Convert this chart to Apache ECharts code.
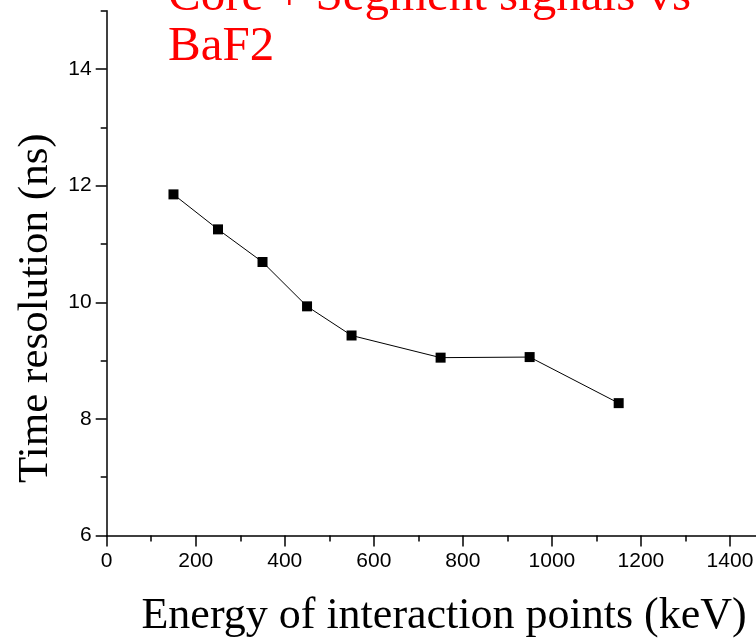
<!DOCTYPE html>
<html>
<head>
<meta charset="utf-8">
<script src="https://cdn.jsdelivr.net/npm/echarts@6/dist/echarts.min.js"></script>
<style>html,body{margin:0;padding:0;background:#fff}#c{width:756px;height:640px}</style>
</head>
<body>
<div id="c"></div>
<script>
var energy = [150, 250, 350, 450, 550, 750, 950, 1150];
var resolution = [11.85, 11.25, 10.69, 9.93, 9.43, 9.05, 9.06, 8.27];
var xMajorTicks = [0, 200, 400, 600, 800, 1000, 1200, 1400];
var xMinorTicks = [100, 300, 500, 700, 900, 1100, 1300];
var yMajorTicks = [6, 8, 10, 12, 14];
var yMinorTicks = [7, 9, 11, 13, 15];
var titleText = 'Core + Segment signals vs\nBaF2';
var xName = 'Energy of interaction points (keV)';
var yName = 'Time resolution (ns)';

var chart = echarts.init(document.getElementById('c'));
var labelFont = {color: '#000', fontFamily: 'Liberation Sans, Arial, sans-serif', fontSize: 21,
  formatter: function (v) { return String(v); }};
var serif = 'Liberation Serif, Times New Roman, serif';
var lineStyle = {color: '#000', width: 1.5};
chart.setOption({
  animation: false,
  backgroundColor: '#fff',
  title: {
    text: titleText,
    left: 163, top: -33,
    textStyle: {color: '#ff0000', fontFamily: serif, fontSize: 49, fontWeight: 'normal', lineHeight: 50}
  },
  grid: {left: 106.7, top: 10.7, width: 667.8, height: 524.8, containLabel: false, outerBoundsMode: 'none'},
  xAxis: [{
    type: 'value', min: 0, max: 1500, interval: 100,
    name: xName, nameLocation: 'middle', nameGap: 59,
    nameTextStyle: {color: '#000', fontFamily: serif, fontSize: 44, padding: [0, 0, 0, 7]},
    axisLine: {show: true, lineStyle: lineStyle},
    axisTick: {show: true, length: 11, lineStyle: lineStyle, customValues: xMajorTicks},
    axisLabel: Object.assign({margin: 15, customValues: xMajorTicks}, labelFont),
    splitLine: {show: false}
  }, {
    type: 'value', min: 0, max: 1500, interval: 100, position: 'bottom',
    axisLine: {show: false},
    axisTick: {show: true, length: 6, lineStyle: lineStyle, customValues: xMinorTicks},
    axisLabel: {show: false},
    splitLine: {show: false}
  }],
  yAxis: [{
    type: 'value', min: 6, max: 15, interval: 1,
    name: yName, nameLocation: 'middle', nameGap: 42,
    nameTextStyle: {color: '#000', fontFamily: serif, fontSize: 43, padding: [0, 70, 0, 0]},
    axisLine: {show: true, lineStyle: lineStyle},
    axisTick: {show: true, length: 11, lineStyle: lineStyle, customValues: yMajorTicks},
    axisLabel: Object.assign({margin: 15, customValues: yMajorTicks}, labelFont),
    splitLine: {show: false}
  }, {
    type: 'value', min: 6, max: 15, interval: 1, position: 'left', offset: 0,
    axisLine: {show: false},
    axisTick: {show: true, length: 6, lineStyle: lineStyle, customValues: yMinorTicks},
    axisLabel: {show: false},
    splitLine: {show: false}
  }],
  series: [{
    type: 'line',
    data: energy.map(function (e, i) { return [e, resolution[i]]; }),
    symbol: 'rect', symbolSize: 10,
    itemStyle: {color: '#000'},
    lineStyle: {color: '#000', width: 1},
    clip: false
  }]
});
</script>
</body>
</html>
